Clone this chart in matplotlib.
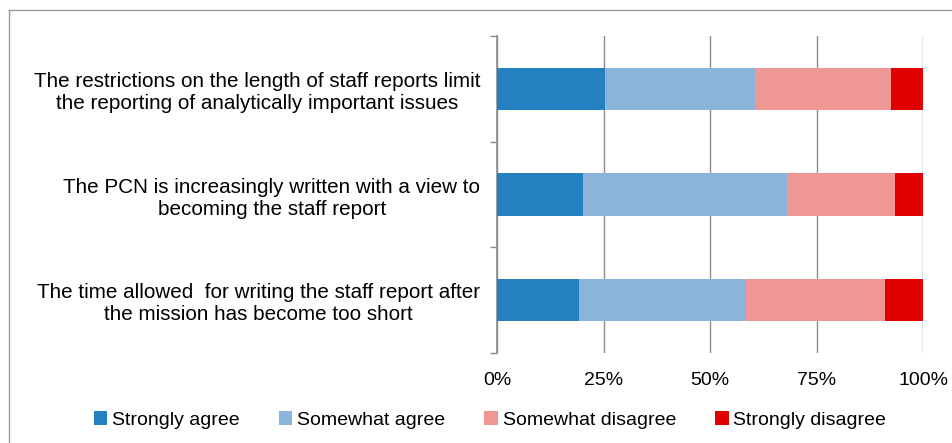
import numpy as np
import matplotlib.pyplot as plt
from matplotlib.lines import Line2D
from matplotlib.ticker import FixedLocator, PercentFormatter

plt.rcParams['font.family'] = ['Liberation Sans', 'DejaVu Sans']

categories = [
    "The restrictions on the length of staff reports limit\nthe reporting of analytically important issues",
    "The PCN is increasingly written with a view to\nbecoming the staff report",
    "The time allowed  for writing the staff report after\nthe mission has become too short",
]
series = ["Strongly agree", "Somewhat agree", "Somewhat disagree", "Strongly disagree"]
strongly_agree = [25.4, 20.1, 19.3]
somewhat_agree = [35.2, 48.0, 38.8]
somewhat_disagree = [31.8, 25.4, 32.9]
strongly_disagree = [7.6, 6.5, 9.0]
colors = ["#2381c2", "#8ab4d9", "#ee9794", "#e00000"]
x_ticks = [0, 25, 50, 75, 100]

W, H = 953, 443
fig = plt.figure(figsize=(W / 100, H / 100), dpi=100)
ax = fig.add_axes([497 / W, 1 - 353 / H, (923 - 497) / W, (353 - 36) / H])

y = np.arange(len(categories))
left = np.zeros(len(categories))
for name, vals, col in zip(series,
                           [strongly_agree, somewhat_agree, somewhat_disagree, strongly_disagree],
                           colors):
    vals = np.array(vals)
    ax.barh(y, vals, left=left, height=0.4, color=col, label=name, zorder=3)
    left += vals

ax.set_xlim(0, 100)
ax.set_ylim(len(categories) - 0.5, -0.5)
ax.xaxis.set_major_locator(FixedLocator(x_ticks))
ax.xaxis.set_major_formatter(PercentFormatter(decimals=0))
ax.grid(axis='x', color='#8c8c8c', linewidth=1.0, zorder=0)
ax.tick_params(axis='x', length=0, pad=14, labelsize=14)

ax.set_yticks(y)
ax.set_yticklabels(categories, fontsize=14.9, ha='right', multialignment='center',
                   linespacing=1.2)
ax.set_yticks(np.arange(len(categories) + 1) - 0.5, minor=True)
ax.tick_params(axis='y', which='major', length=0, pad=12)
ax.tick_params(axis='y', which='minor', length=5, width=1.0, color='#8c8c8c', direction='out')

for s in ['top', 'right', 'bottom']:
    ax.spines[s].set_visible(False)
ax.spines['left'].set_color('#8c8c8c')
ax.spines['left'].set_linewidth(1.2)

# frame lines along the top and left of the figure
fig.add_artist(Line2D([9.5 / W, 9.5 / W], [0, 1 - 10 / H], color='#9a9a9a', lw=1.0))
fig.add_artist(Line2D([9.5 / W, 1], [1 - 10 / H, 1 - 10 / H], color='#9a9a9a', lw=1.0))

fig.legend(loc='center', bbox_to_anchor=(490 / W, 1 - 420 / H), ncol=4, frameon=False,
           fontsize=14, handlelength=0.7, handleheight=0.7, handletextpad=0.25,
           columnspacing=2.0)

fig.savefig('out.png', dpi=100)
